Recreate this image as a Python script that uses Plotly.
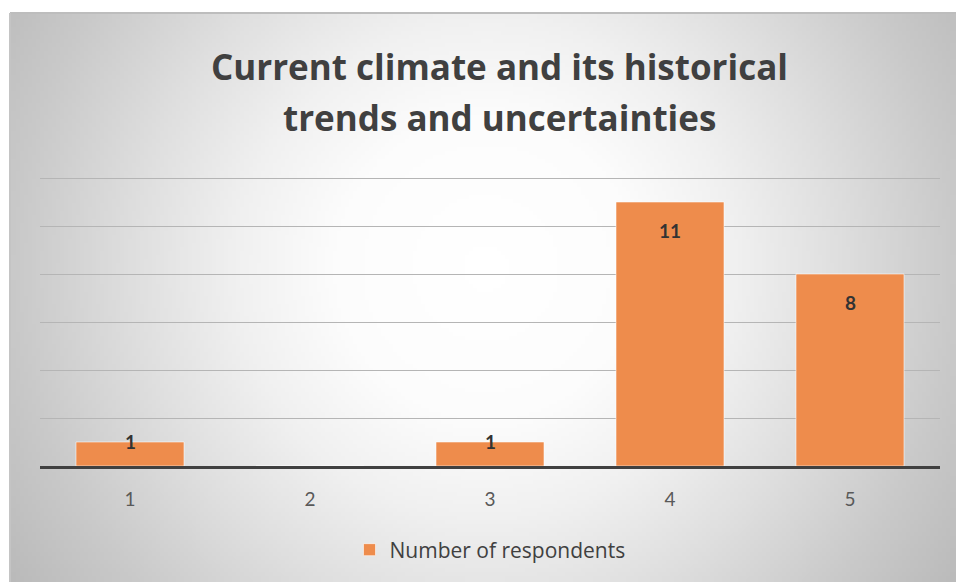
import base64, struct, zlib
import plotly.graph_objects as go

# ---- data ----
categories = ["1", "2", "3", "4", "5"]
respondents = [1, 0, 1, 11, 8]
series_name = "Number of respondents"
title_lines = ["Current climate and its historical", "trends and uncertainties"]

W, H = 956, 582
ML, MR, MT, MB = 40, 16, 174, 116
PW, PH = W - ML - MR, H - MT - MB
Y_TOP = PH / 24.0  # 24 px per unit, leaves top gridline (12) visible

# ---- radial gradient background (decoration) ----
def make_png(w, h, scale, cx, cy):
    stops = [(0, 255), (150, 252), (250, 240), (350, 223), (470, 201), (580, 184)]
    def val(r):
        for (r0, v0), (r1, v1) in zip(stops, stops[1:]):
            if r <= r1:
                return v0 + (v1 - v0) * (r - r0) / (r1 - r0)
        return stops[-1][1]
    raw = bytearray()
    for j in range(h):
        raw.append(0)
        for i in range(w):
            dx = (i + 0.5) * scale - cx
            dy = (j + 0.5) * scale - cy
            v = int(round(val((dx * dx + dy * dy) ** 0.5)))
            raw += bytes((v, v, v))
    def chunk(t, d):
        c = struct.pack(">I", len(d)) + t + d
        return c + struct.pack(">I", zlib.crc32(t + d) & 0xffffffff)
    png = b"\x89PNG\r\n\x1a\n" + chunk(b"IHDR", struct.pack(">IIBBBBB", w, h, 8, 2, 0, 0, 0))
    png += chunk(b"IDAT", zlib.compress(bytes(raw), 9)) + chunk(b"IEND", b"")
    return "data:image/png;base64," + base64.b64encode(png).decode()

def px_x(p):  # pixel -> paper (plot-area fraction)
    return (p - ML) / PW

def px_y(p):
    return (H - MB - p) / PH

fx0, fy0 = 10, 13  # frame offset
fw, fh = W - fx0, H - fy0
scale = 4
bg = make_png(fw // scale, fh // scale, scale, 475, 255)

fig = go.Figure()
fig.add_trace(go.Bar(
    x=categories, y=respondents, name=series_name,
    marker=dict(color="#EE8C4C", line=dict(color="rgba(255,255,255,0.55)", width=1)),
    width=0.6, hoverinfo="x+y",
))

annotations = []
for i, v in enumerate(respondents):
    if v == 0:
        continue
    annotations.append(dict(
        x=i, y=v, xref="x", yref="y", text=f"<b>{v}</b>", showarrow=False,
        yshift=(-28 if v > 2 else 1), yanchor="middle",
        font=dict(family="Lato", size=19, color="#333333"),
    ))

# title lines (real text) placed as annotations for Excel-like line spacing
for line, yc in zip(title_lines, [66, 117]):
    annotations.append(dict(
        x=px_x(499), y=px_y(yc), xref="paper", yref="paper", text=f"<b>{line}</b>",
        showarrow=False, xanchor="center", yanchor="middle",
        font=dict(family="Open Sans", size=35, color="#404040"),
    ))

fig.update_layout(
    width=W, height=H,
    paper_bgcolor="white",
    plot_bgcolor="rgba(0,0,0,0)",
    margin=dict(l=ML, r=MR, t=MT, b=MB),
    xaxis=dict(type="category", range=[-0.5, 4.5], showgrid=False, showline=True,
               linecolor="#404040", linewidth=3,
               ticks="", tickfont=dict(family="Lato", size=19, color="#595959"), ticklabelstandoff=14,
               zeroline=False),
    yaxis=dict(range=[0, Y_TOP], tick0=0, dtick=2, showgrid=True, gridcolor="#b5b5b5", gridwidth=1,
               showticklabels=False, zeroline=False, showline=False),
    showlegend=True,
    legend=dict(orientation="h", x=0.5, xanchor="center", y=px_y(550), yanchor="middle",
                font=dict(family="Open Sans", size=21, color="#404040"), bgcolor="rgba(0,0,0,0)"),
    annotations=annotations,
    images=[dict(source=bg, xref="paper", yref="paper", x=px_x(fx0), y=px_y(fy0),
                 sizex=fw / PW, sizey=fh / PH, xanchor="left", yanchor="top",
                 sizing="stretch", layer="below")],
    shapes=[dict(type="line", xref="paper", yref="paper", x0=px_x(fx0), x1=px_x(W), y0=px_y(fy0), y1=px_y(fy0),
                 line=dict(color="#bdbdbd", width=2), layer="below"),
            dict(type="line", xref="paper", yref="paper", x0=px_x(fx0), x1=px_x(fx0), y0=px_y(H), y1=px_y(fy0),
                 line=dict(color="#c4c4c4", width=2), layer="below")],
)

fig.write_html("out.html", config={"displayModeBar": False},
               post_script="document.body.style.margin='0px';")
